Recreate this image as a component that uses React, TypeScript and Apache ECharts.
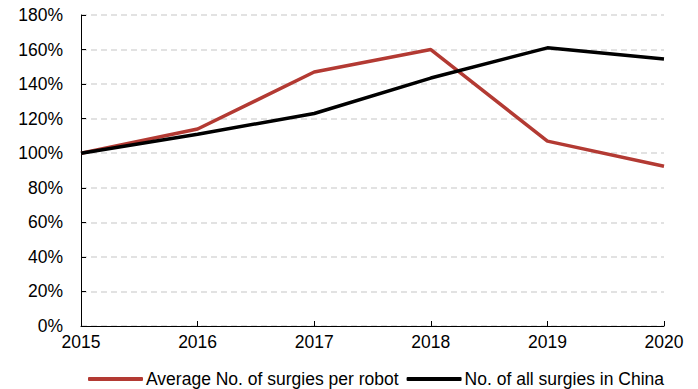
import React, { useEffect, useRef } from "react";
import * as echarts from "echarts";

const years = ["2015", "2016", "2017", "2018", "2019", "2020"];
const avgPerRobot = [100, 114, 147, 160, 107, 92.5];
const allSurgeries = [100, 111, 123, 143.5, 161, 154.5];
const seriesNames = ["Average No. of surgies per robot", "No. of all surgies in China"];

const FONT = "'Liberation Sans', Arial, sans-serif";
const FS = 17.5;

export default function App() {
  const ref = useRef<HTMLDivElement>(null);
  useEffect(() => {
    if (!ref.current) return;
    const chart = echarts.init(ref.current, null, { renderer: "svg" });
    chart.setOption({
      animation: false,
      textStyle: { fontFamily: FONT },
      grid: { left: 81, right: 34, top: 15, bottom: 63 },
      legend: {
        top: 370,
        left: 88,
        padding: 0,
        itemWidth: 55,
        itemHeight: 4,
        itemGap: 8,
        icon: "roundRect",
        textStyle: {
          fontFamily: FONT,
          fontSize: FS,
          lineHeight: 18,
          color: "#000",
          padding: [0, 0, 0, -2],
        },
        data: seriesNames,
      },
      xAxis: {
        type: "category",
        data: years,
        boundaryGap: false,
        axisLine: { lineStyle: { color: "#000", width: 1 } },
        axisTick: { inside: true, length: 5, lineStyle: { color: "#000" } },
        axisLabel: { color: "#000", fontSize: FS, fontFamily: FONT, margin: 7 },
        splitLine: { show: false },
      },
      yAxis: {
        type: "value",
        min: 0,
        max: 180,
        interval: 20,
        axisLine: { show: true, lineStyle: { color: "#000", width: 1 } },
        axisTick: { show: true, inside: true, length: 5, lineStyle: { color: "#000" } },
        axisLabel: { color: "#000", fontSize: FS, fontFamily: FONT, formatter: "{value}%", margin: 18 },
        splitLine: { lineStyle: { color: "#d9d9d9", width: 1.5, type: [6, 4] } },
      },
      series: [
        {
          name: seriesNames[0],
          type: "line",
          data: avgPerRobot,
          showSymbol: false,
          lineStyle: { color: "#b33a33", width: 3.5 },
          itemStyle: { color: "#b33a33" },
        },
        {
          name: seriesNames[1],
          type: "line",
          data: allSurgeries,
          showSymbol: false,
          lineStyle: { color: "#000", width: 3.5 },
          itemStyle: { color: "#000" },
        },
      ],
    });
    return () => chart.dispose();
  }, []);
  return (
    <div
      ref={ref}
      style={{ position: "absolute", left: 0, top: 0, width: 698, height: 389 }}
    />
  );
}
